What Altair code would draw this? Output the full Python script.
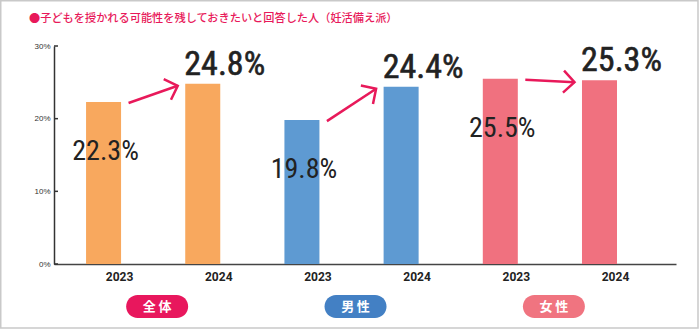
import math
import altair as alt
import pandas as pd

# ---- data ----
groups = ["全体", "男性", "女性"]
years = ["2023", "2024"]
values_2023 = [22.3, 19.8, 25.5]
values_2024 = [24.8, 24.4, 25.3]
y_ticks = [0, 10, 20, 30]
title_text = "●子どもを授かれる可能性を残しておきたいと回答した人（妊活備え派）"

# ---- style ----
bar_colors = ["#F8A85E", "#5E9AD2", "#F0717F"]
pill_colors = ["#E8175D", "#4380C4", "#F07480"]
ACCENT = "#E8195A"
TEXT = "#222222"
NUM_FONT = '"Liberation Sans Narrow", "Roboto Condensed", Roboto, sans-serif'
CJK_FONT = "Noto Sans CJK JP"

PLOT_W, PLOT_H = 622, 218
PAD_L, PAD_T = 54, 46
P_INNER, P_OUTER, ALIGN = 0.647, 0.459, 0.352
STEP = PLOT_W / (6 - P_INNER + 2 * P_OUTER)
PX_PER = PLOT_H / 30.0
ARROW_OFF = 25
Y1OFF, Y2OFF = 1, 2

keys = [g + y for g in groups for y in years]

rows = []
for i, g in enumerate(groups):
    for y, v in zip(years, [values_2023[i], values_2024[i]]):
        rows.append({"key": g + y, "group": g, "year": y, "value": v,
                     "label": f"{v}%"})
df = pd.DataFrame(rows)

arrows = []
for i, g in enumerate(groups):
    v1, v2 = values_2023[i], values_2024[i]
    dx = STEP - 2 * ARROW_OFF
    sdy = -(v2 - v1) * PX_PER + (Y2OFF - Y1OFF)
    ang = math.degrees(math.atan2(sdy, dx)) % 360
    arrows.append({"key1": g + years[0], "key2": g + years[1],
                   "v1": v1, "v2": v2, "angle": ang})
df_arrows = pd.DataFrame(arrows)

df_groups = pd.DataFrame({"group": groups, "key1": [g + years[0] for g in groups]})
df_ticks = pd.DataFrame({"t": y_ticks})
one = pd.DataFrame({"a": [0]})

xscale = alt.Scale(domain=keys, paddingInner=P_INNER, paddingOuter=P_OUTER, align=ALIGN)
yscale = alt.Scale(domain=[0, 30], nice=False, zero=True)

base = alt.Chart(df)

bars = base.mark_bar().encode(
    x=alt.X("key:N", scale=xscale, sort=keys,
            axis=alt.Axis(title=None, labelExpr="slice(datum.label, -4)", labelAngle=0,
                          labelFont="Roboto", labelFontWeight="bold", labelFontSize=12,
                          labelColor=TEXT, labelOffset=16, labelPadding=7, ticks=False,
                          domainColor="#444444", domainWidth=1.5, grid=False)),
    y=alt.Y("value:Q", scale=yscale,
            axis=alt.Axis(title=None, values=y_ticks, labelExpr="datum.value + '%'",
                          labelFont="Liberation Sans", labelFontSize=8, labelColor="#333333",
                          labelPadding=4, ticks=False, domainColor="#333333",
                          domainWidth=1.5, grid=False)),
    color=alt.Color("group:N", scale=alt.Scale(domain=groups, range=bar_colors), legend=None),
)

lab23 = base.transform_filter(alt.datum.year == years[0]).mark_text(
    font=NUM_FONT, fontSize=28, color=TEXT, baseline="middle", align="center", dy=50, dx=2
).encode(x=alt.X("key:N", scale=xscale, sort=keys), y=alt.Y("value:Q", scale=yscale), text="label:N")

lab24 = base.transform_filter(alt.datum.year == years[1]).mark_text(
    font=NUM_FONT, fontSize=34, color=TEXT, baseline="alphabetic",
    align="center", dy=-9, dx=22, stroke=TEXT, strokeWidth=0.6
).encode(x=alt.X("key:N", scale=xscale, sort=keys), y=alt.Y("value:Q", scale=yscale), text="label:N")

arrow_lines = alt.Chart(df_arrows).mark_rule(
    color=ACCENT, strokeWidth=2.5, xOffset=ARROW_OFF, x2Offset=-ARROW_OFF,
    yOffset=Y1OFF, y2Offset=Y2OFF
).encode(x=alt.X("key1:N", scale=xscale, sort=keys), x2="key2:N",
         y=alt.Y("v1:Q", scale=yscale), y2="v2:Q")

chevron = "M -1 -1 L 0 0 L -1 1"
arrow_heads = alt.Chart(df_arrows).mark_point(
    shape=chevron, filled=False, size=484, strokeWidth=2.5, color=ACCENT, opacity=1,
    xOffset=-ARROW_OFF, yOffset=Y2OFF, strokeJoin="miter"
).encode(x=alt.X("key2:N", scale=xscale, sort=keys), y=alt.Y("v2:Q", scale=yscale),
         angle=alt.Angle("angle:Q", scale=None))

tick_marks = alt.Chart(df_ticks).mark_rule(color="#333333", strokeWidth=1.5).encode(
    y=alt.Y("t:Q", scale=yscale), x=alt.value(0), x2=alt.value(4))

ph = 0.371
pill_path = (f"M -{1-ph:.3f} -{ph} L {1-ph:.3f} -{ph} A {ph} {ph} 0 0 1 {1-ph:.3f} {ph} "
             f"L -{1-ph:.3f} {ph} A {ph} {ph} 0 0 1 -{1-ph:.3f} -{ph} Z")
PILL_X = STEP / 2 + 4
PILL_Y = PLOT_H + 306.5 - 264
pills = alt.Chart(df_groups).mark_point(
    shape=pill_path, filled=True, size=62 * 62, strokeWidth=0, opacity=1, xOffset=PILL_X
).encode(x=alt.X("key1:N", scale=xscale, sort=keys), y=alt.value(PILL_Y),
         fill=alt.Fill("group:N", scale=alt.Scale(domain=groups, range=pill_colors), legend=None))

pill_text = alt.Chart(df_groups).transform_calculate(
    t="slice(datum.group,0,1) + '\u2009' + slice(datum.group,1)"
).mark_text(
    font=CJK_FONT, fontSize=13, fontWeight="bold", color="white", baseline="middle",
    align="center", xOffset=PILL_X
).encode(x=alt.X("key1:N", scale=xscale, sort=keys), y=alt.value(PILL_Y), text="t:N")

title = alt.Chart(one).mark_text(
    font=CJK_FONT, fontSize=11.2, fontWeight=500, color=ACCENT, align="left", baseline="middle"
).encode(x=alt.value(29 - PAD_L), y=alt.value(19 - PAD_T), text=alt.value(title_text))

frame = alt.Chart(one).mark_rect(fill="transparent", stroke="#C9C9C9", strokeWidth=1.5).encode(
    x=alt.value(0.75 - PAD_L), x2=alt.value(698 - PAD_L),
    y=alt.value(0.75 - PAD_T), y2=alt.value(328 - PAD_T))

chart = alt.layer(
    frame, bars, arrow_lines, arrow_heads, lab23, lab24, tick_marks, pills, pill_text, title
).properties(
    width=PLOT_W, height=PLOT_H,
    autosize=alt.AutoSizeParams(type="none"),
    padding={"left": PAD_L, "top": PAD_T, "right": 700 - PAD_L - PLOT_W,
             "bottom": 330 - PAD_T - PLOT_H},
    background="white",
).configure_view(stroke=None)

chart.save("out.html", embed_options={"renderer": "svg", "actions": False})
